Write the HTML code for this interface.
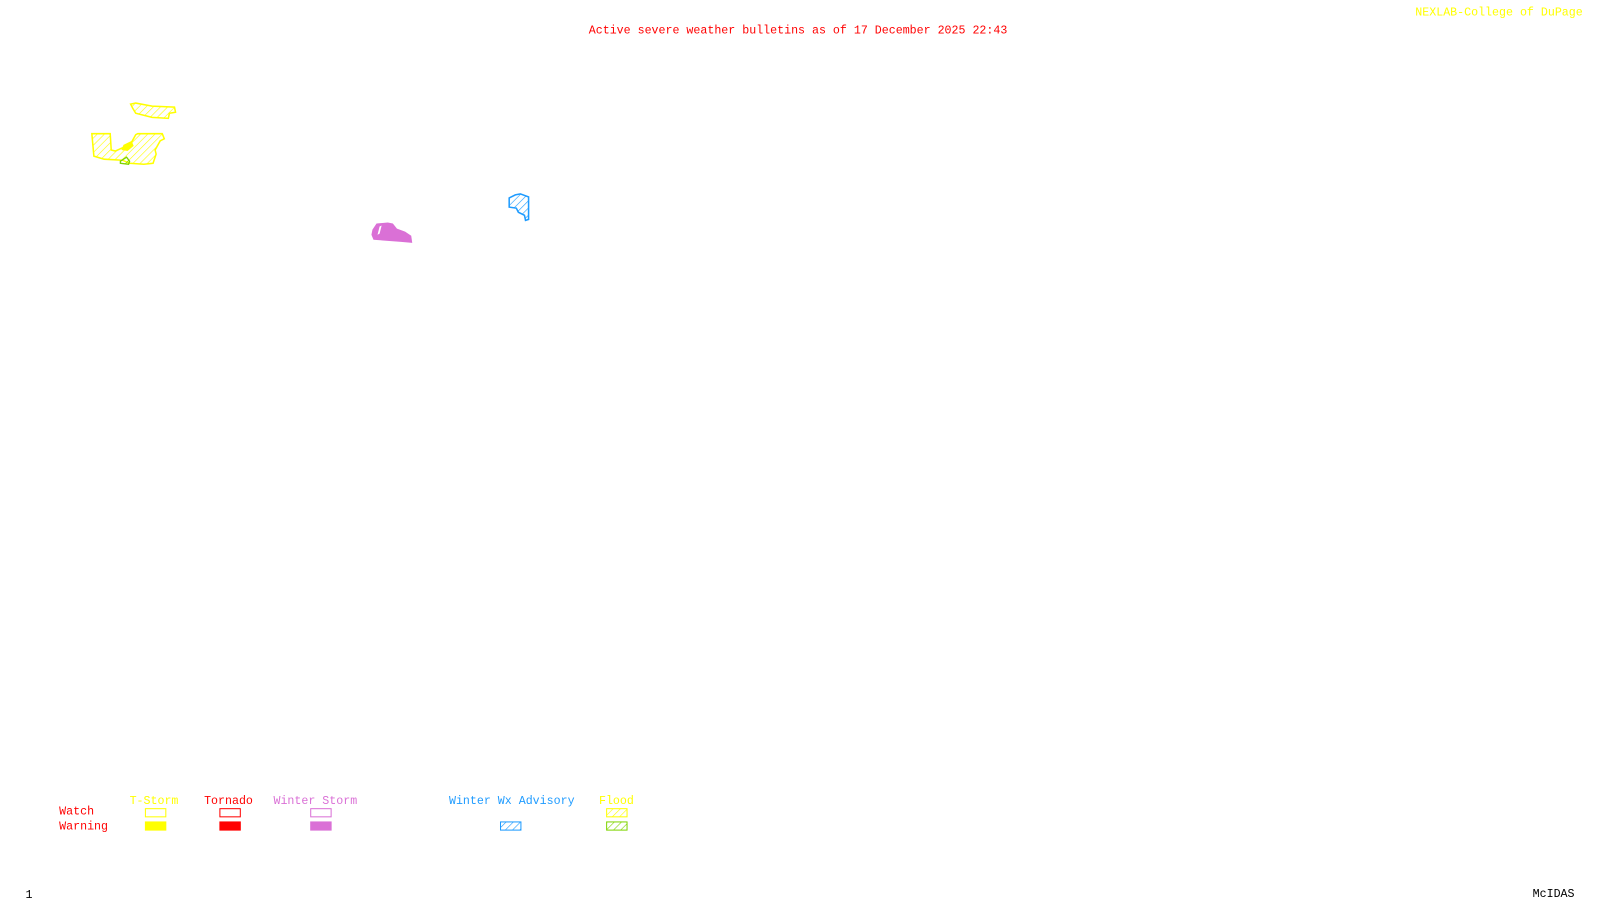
<!DOCTYPE html>
<html><head><style>
html,body{margin:0;padding:0;background:#fff;width:1600px;height:900px;overflow:hidden}
svg{display:block}
text{font-family:"Liberation Mono",monospace;font-size:11.4px}
</style></head><body>
<svg width="1600" height="900" viewBox="0 0 1568 882" preserveAspectRatio="none">
<defs>
<pattern id="hy" width="5" height="5" patternUnits="userSpaceOnUse" patternTransform="rotate(45)"><line x1="0" y1="0" x2="0" y2="5" stroke="#ffff00" stroke-width="1.2"/></pattern>
<pattern id="hb" width="5" height="5" patternUnits="userSpaceOnUse" patternTransform="rotate(45)"><line x1="0" y1="0" x2="0" y2="5" stroke="#1e9bff" stroke-width="1.2"/></pattern>
<pattern id="hg" width="5" height="5" patternUnits="userSpaceOnUse" patternTransform="rotate(45)"><line x1="0" y1="0" x2="0" y2="5" stroke="#7fd400" stroke-width="1.2"/></pattern>
</defs>
<text x="577" y="33" fill="#ff0000">Active severe weather bulletins as of 17 December 2025 22:43</text>
<text x="1387" y="15" fill="#ffff00">NEXLAB-College of DuPage</text>
<text x="25" y="880" fill="#000">1</text>
<text x="1502" y="879" fill="#000">McIDAS</text>

<g fill="url(#hy)" stroke="#ffff00" stroke-width="1.5">
<polygon points="128,102 133,101 149,104 171,105 172,110 166,111 165,116 149,115 133,111 130,106"/>
<polygon points="90,131 108,131 109,147 113,148 124,143 128,141 133,132 135,131 159,131 161,136 157,138 152,147 153,151 150,160 141,161 127,160 120,157 102,156 92,153 91,142"/>
</g>
<polygon points="118,158 124,154 127,158 126,161 118,160" fill="url(#hg)" stroke="#7fd400" stroke-width="1.3"/>
<polygon points="121,142 129,138 131,143 125,148 119,147" fill="#ffff00"/>
<polygon points="499,194 505,191 510,190 518,193 518,215 515,216 514,211 508,208 506,204 499,203" fill="url(#hb)" stroke="#1e9bff" stroke-width="1.5"/>
<polygon points="365,225 369,219 380,218 385,219 389,224 397,227 403,231 404,238 393,237 380,236 366,235 364,230" fill="#da70d6"/>
<polygon points="372,222 374,221 372,229 370,230" fill="#fff"/>

<text x="127" y="788" fill="#ffff00">T-Storm</text>
<text x="200" y="788" fill="#ff0000">Tornado</text>
<text x="268" y="788" fill="#da70d6">Winter Storm</text>
<text x="440" y="788" fill="#1e9bff">Winter Wx Advisory</text>
<text x="587" y="788" fill="#ffff00">Flood</text>
<text x="58" y="798" fill="#ff0000">Watch</text>
<text x="58" y="813" fill="#ff0000">Warning</text>
<rect x="142.5" y="792.5" width="20" height="8" fill="none" stroke="#ffff00"/>
<rect x="142" y="805" width="21" height="9" fill="#ffff00"/>
<rect x="215.5" y="792.5" width="20" height="8" fill="none" stroke="#ff0000"/>
<rect x="215" y="805" width="21" height="9" fill="#ff0000"/>
<rect x="304.5" y="792.5" width="20" height="8" fill="none" stroke="#da70d6"/>
<rect x="304" y="805" width="21" height="9" fill="#da70d6"/>
<rect x="490.5" y="805.5" width="20" height="8" fill="url(#hb)" stroke="#1e9bff"/>
<rect x="594.5" y="792.5" width="20" height="8" fill="url(#hy)" stroke="#ffff00"/>
<rect x="594.5" y="805.5" width="20" height="8" fill="url(#hg)" stroke="#7fd400"/>
</svg>
</body></html>
